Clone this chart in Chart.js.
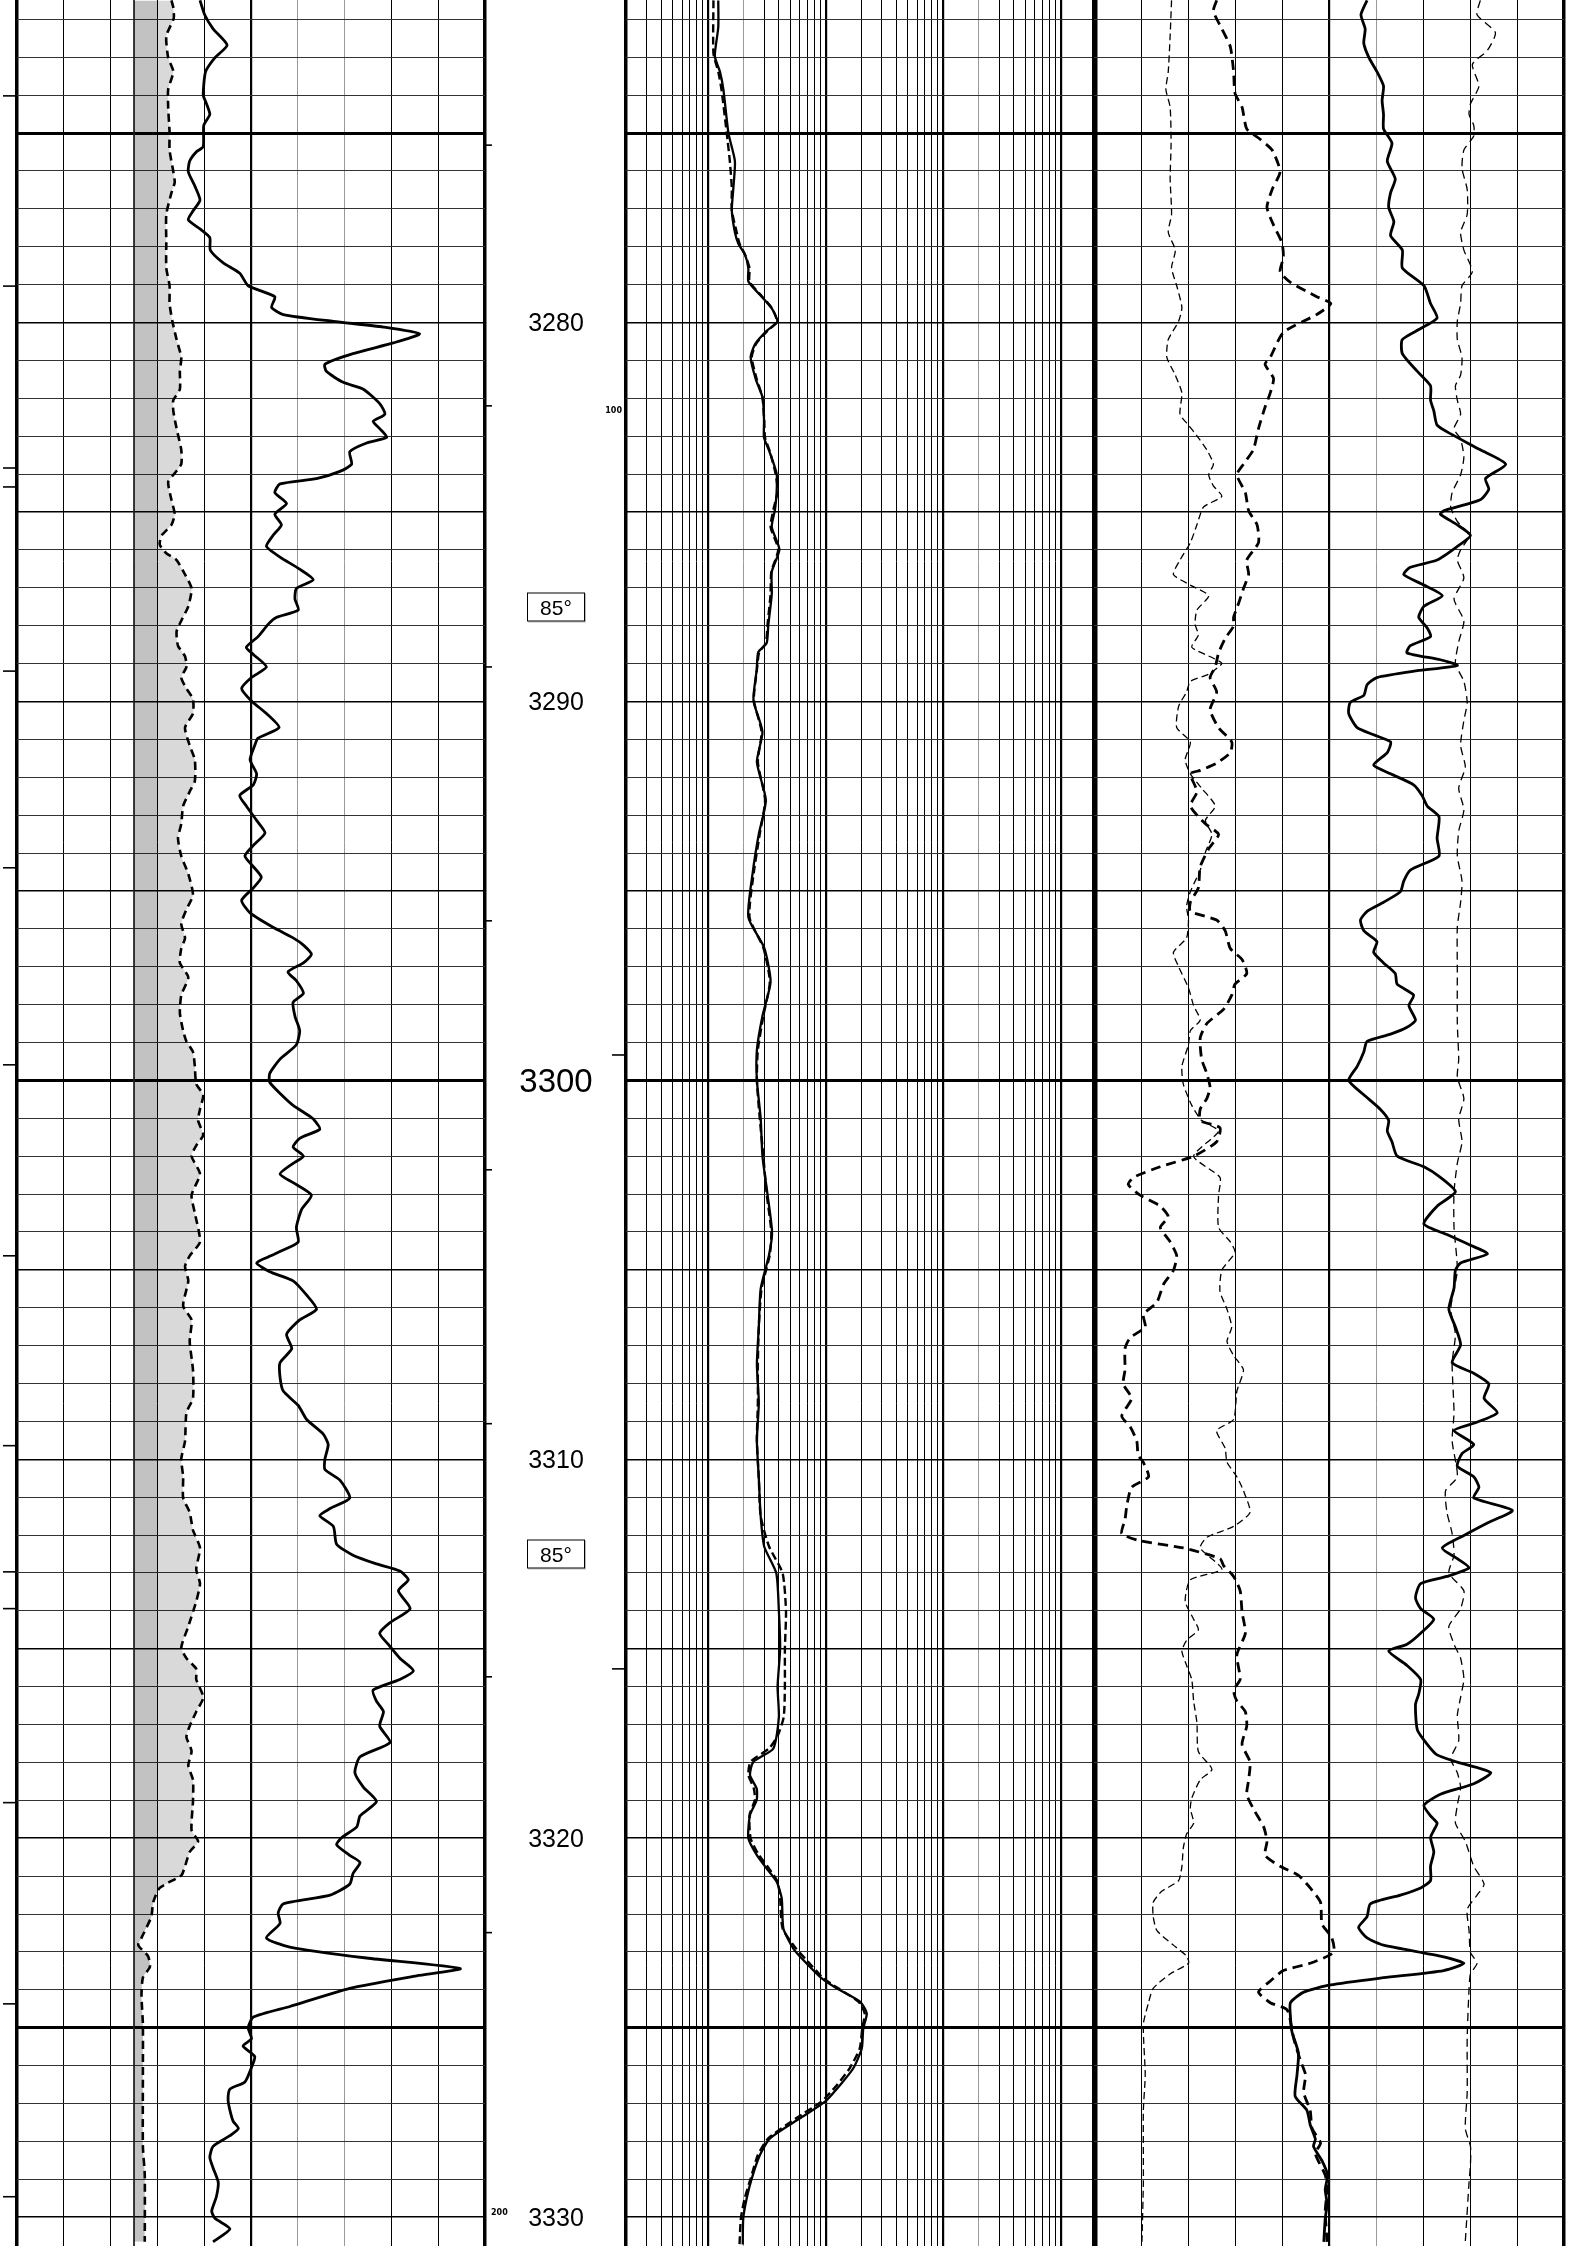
<!DOCTYPE html>
<html>
<head>
<meta charset="utf-8">
<title>Log 3271 - 3331 m</title>
<script src="https://cdn.jsdelivr.net/npm/chart.js@4.4.1/dist/chart.umd.min.js"></script>
<style>
  html, body { margin: 0; padding: 0; background: #fff; width: 1587px; height: 2246px; overflow: hidden; }
  #page { position: relative; width: 1587px; height: 2246px; background: #fff; }
  #page canvas { position: absolute; top: 0; }
  .depth { position: absolute; left: 556px; transform: translate(-50%, -50%); font: 25px "Liberation Sans", Arial, sans-serif; line-height: 1; color: #000; white-space: nowrap; }
  .depth.big { font-size: 33px; }
  .angle { position: absolute; left: 556px; transform: translate(-50%, -50%); width: 56px; height: 27px; border: 1px solid #000; font: 21px "Liberation Sans", Arial, sans-serif; line-height: 27px; text-align: center; background: #fff; box-shadow: 1px 1px 0 #bbb; }
  .note { position: absolute; transform: translateY(-50%); font: bold 8px "DejaVu Sans", sans-serif; line-height: 1; }
</style>
</head>
<body>
<div id="page">
  <canvas id="leftTrack" width="492" height="2246" style="left:0px"></canvas>
  <canvas id="depthTrack" width="143" height="2246" style="left:485px"></canvas>
  <canvas id="logTrack" width="478" height="2246" style="left:622px"></canvas>
  <canvas id="rightTrack" width="478" height="2246" style="left:1090px"></canvas>
</div>
<script>

// depth window shown on the sheet (m)
const depthTop = 3271.49;
const depthBottom = 3330.76;

// labels in the depth column
const depthLabels = [3280, 3290, 3300, 3310, 3320, 3330];
const angleDepths = [3287.5, 3312.5];
const angleText = '85°';
const noteTexts = ['100', '200'];
const noteDepths = [3282.33, 3329.89];

// grid divisions
const trackDivisions = [0, 10, 20, 30, 40, 50, 60, 70, 80, 90, 100];
const logGrid = [0.2, 0.3, 0.4, 0.5, 0.6, 0.7, 0.8, 0.9, 1, 2, 3, 4, 5, 6, 7, 8, 9, 10, 20, 30, 40, 50, 60, 70, 80, 90,
  100, 200, 300, 400, 500, 600, 700, 800, 900, 1000, 2000];
const logDecades = [1, 10, 100, 1000];

// tick marks
const marginTicks = [3274.02, 3279.04, 3283.84, 3284.34, 3289.2, 3294.39, 3299.59, 3304.63, 3309.64, 3312.97, 3313.94, 3319.06, 3324.37, 3329.46];
const timeTicks = [3275.32, 3282.2, 3289.09, 3295.79, 3302.36, 3309.06, 3315.74, 3322.49];
const rightEdgeTicks = [3299.33, 3315.53];

// left track, solid curve
const grDepth = [
  3271.5,3271.88,3272.25,3272.68,3273.01,3273.38,3274.0,3274.23,3274.51,3274.8,3275.36,3275.5,3275.74,3276.02,3276.4,3276.77,3277.06,3277.29,3277.53,3277.76,
  3278.09,3278.42,3278.7,3279.03,3279.32,3279.6,3279.79,3279.97,3280.12,3280.3,3280.54,3280.82,3281.1,3281.29,3281.58,3281.76,3282.14,3282.42,3282.61,3282.8,
  3283.03,3283.18,3283.41,3283.74,3283.93,3284.12,3284.26,3284.49,3284.78,3285.06,3285.34,3285.62,3285.91,3286.19,
  3286.51,3286.79,3287.02,3287.3,3287.59,3287.78,3287.96,3288.29,3288.57,3288.76,3289.09,3289.37,3289.66,3289.99,3290.32,3290.69,3290.97,3291.16,3291.54,3291.91,
  3292.2,3292.48,3292.76,3293.14,3293.47,3293.8,3294.08,3294.36,3294.64,3294.92,3295.25,3295.58,3295.96,3296.24,3296.43,3296.67,3296.9,3297.14,3297.37,3297.7,
  3297.94,3298.31,3298.69,3299.06,3299.44,3299.82,3300.05,3300.38,3300.66,3300.95,
  3301.06,3301.29,3301.53,3301.76,3302.0,3302.19,3302.47,3302.7,3303.03,3303.41,3303.88,3304.26,3304.44,3304.68,3304.82,3305.05,3305.29,3305.67,3306.04,3306.32,
  3306.7,3307.08,3307.45,3307.83,3308.2,3308.58,3308.95,3309.33,3309.61,3309.99,3310.27,3310.55,3311.02,3311.3,3311.49,3311.77,3312.24,3312.53,3312.76,3312.95,
  3313.18,3313.47,3313.94,3314.31,3314.59,3314.88,3315.25,3315.58,
  3315.81,3316.09,3316.38,3316.66,3317.04,3317.47,3317.85,3318.27,3318.65,3319.03,3319.41,3319.7,3319.98,3320.17,3320.45,3320.64,3320.93,3321.21,3321.5,3321.73,
  3321.97,3322.25,3322.63,3322.87,3323.16,3323.44,3323.63,3323.96,3324.44,3324.72,3325.0,3325.29,3325.48,3325.76,3326.05,3326.43,3326.62,3326.9,3327.18,3327.47,
  3327.66,3327.85,3328.13,3328.42,3328.7,3329.08,3329.46,3329.84,3330.03,3330.31,3330.65];
const grValue = [
  39.1,40.1,41.9,44.9,42.3,40.3,39.8,40.5,41.2,39.9,39.8,38.3,36.9,36.6,38.0,39.1,37.6,36.6,39.1,41.2,
  41.3,44.0,47.6,49.4,55.1,54.4,56.9,67.6,78.3,86.0,80.4,71.8,65.8,66.1,69.7,74.0,77.5,78.6,76.1,77.5,
  79.0,74.7,71.1,71.5,69.0,64.0,56.2,55.1,57.6,55.1,56.5,54.7,53.3,56.2,
  60.4,63.3,59.7,59.4,60.1,55.5,53.7,51.5,49.0,50.5,53.3,50.1,48.0,50.1,53.3,56.0,51.5,50.8,49.8,51.2,
  50.5,47.6,49.0,51.2,53.0,50.5,48.7,50.5,52.2,50.5,48.0,49.8,54.7,59.0,61.2,62.9,61.2,57.9,59.7,61.2,
  59.0,59.4,60.4,59.7,56.2,54.0,54.0,56.5,59.0,62.6,
  63.6,64.7,60.4,59.0,61.2,59.0,56.2,59.0,62.9,60.8,59.7,60.1,57.6,53.3,51.2,54.0,59.0,61.9,64.0,60.4,
  57.6,58.7,56.2,56.2,56.9,60.1,61.9,65.4,66.5,65.8,65.8,69.0,71.1,66.9,64.7,67.6,68.3,71.8,76.8,81.8,
  83.6,81.5,84.0,79.7,77.5,79.3,81.8,84.7,
  81.8,76.1,76.8,78.3,77.5,79.7,73.3,72.2,74.0,76.8,73.3,72.6,69.4,68.3,71.1,73.3,71.8,71.1,66.9,56.9,
  55.8,56.2,53.3,58.3,74.7,94.7,85.4,71.1,58.3,50.5,49.4,50.1,48.3,50.8,50.1,48.7,45.5,45.1,45.5,46.2,
  47.3,45.5,41.9,41.2,41.9,43.0,42.6,41.6,42.3,45.5,41.9];

// left track, dashed curve with shading
const shadeBase = 25;
const spDepth = [
  3271.5,3271.69,3271.97,3272.44,3273.01,3273.38,3273.85,3274.32,3274.98,3275.45,3276.02,3276.3,3276.58,3277.15,3277.9,3278.56,3279.03,3279.5,3279.97,3280.45,
  3280.92,3281.29,3281.76,3282.05,3282.33,3282.8,3283.36,3283.74,3283.98,3284.21,3284.68,3285.06,3285.34,3285.62,3285.86,3286.09,
  3286.27,3286.65,3287.02,3287.49,3287.87,3288.15,3288.53,3288.81,3289.09,3289.37,3289.66,3289.94,3290.32,3290.69,3291.16,3291.54,3292.1,3292.38,3292.76,3293.23,
  3293.61,3294.08,3294.55,3295.11,3295.49,3295.87,3296.24,3296.52,3296.9,3297.28,3297.75,3298.22,3298.69,3298.97,3299.25,3299.63,3300.1,3300.38,3300.76,
  3301.06,3301.44,3301.72,3302.0,3302.47,3303.03,3303.5,3304.26,3304.63,3304.91,3305.29,3305.95,3306.32,3306.89,3307.64,3308.39,3308.77,3309.52,3309.99,3310.46,
  3311.02,3311.4,3311.87,3312.34,3312.9,3313.28,3313.75,3314.41,3314.97,3315.25,3315.53,
  3315.81,3316.28,3316.66,3317.04,3317.33,3317.7,3318.08,3318.46,3319.03,3319.79,3320.08,3320.36,3320.74,3320.98,3321.31,3321.69,3322.07,3322.63,3322.82,3323.11,
  3323.39,3323.68,3324.15,3324.91,3326.24,3328.13,3328.89,3330.65];
const spValue = [
  33.0,33.4,33.5,31.9,32.3,33.4,32.3,32.3,32.6,32.6,33.4,33.7,33.0,31.9,31.9,31.9,32.6,32.6,33.2,34.1,
  35.1,34.8,34.8,33.4,33.4,34.1,35.1,35.1,33.7,32.3,33.0,33.7,33.0,30.9,30.5,31.9,
  34.1,35.9,37.3,36.6,35.1,34.1,34.4,35.9,36.2,35.1,36.2,37.6,37.6,35.9,36.9,38.0,38.0,36.9,35.5,35.1,
  34.4,35.1,36.6,37.6,36.2,35.1,35.9,35.1,34.8,36.6,35.1,34.8,35.5,36.2,37.6,38.0,38.3,39.8,39.1,
  38.7,39.8,38.3,37.3,39.1,37.3,38.0,39.1,36.9,35.9,36.6,35.5,37.3,36.9,37.6,37.6,36.2,35.9,35.1,35.5,
  35.5,36.9,37.6,39.1,38.3,39.1,38.3,36.6,35.1,36.2,38.3,
  38.3,39.8,38.3,36.9,36.2,37.3,36.6,37.6,37.6,37.3,38.7,36.9,35.9,35.1,30.5,29.1,28.7,26.6,25.9,28.0,
  28.4,26.9,26.6,26.9,26.9,26.9,27.3,27.3];

// log track, solid curve
const rtDepth = [
  3271.5,3272.21,3272.97,3273.38,3273.86,3275.01,3275.74,3276.45,3277.04,3277.62,3277.92,3278.21,3278.57,3278.92,3279.27,3279.63,3279.98,3280.22,3280.57,3280.92,
  3281.51,3281.98,3282.57,3283.04,3283.4,3283.99,3284.46,3284.93,3285.4,3285.99,3286.58,3287.17,3287.99,3288.46,3288.7,3289.17,3289.97,3290.8,3291.6,3292.6,
  3293.5,3294.5,3295.7,3296.5,3297.4,3298.3,3299.2,3300.0,3301.0,3302.0,3303.0,3304.0,3304.6,3305.5,3306.5,3307.5,3308.5,3309.5,3310.5,3311.5,
  3312.3,3313.0,3314.0,3315.0,3316.0,3316.8,3317.63,3317.98,3318.33,3318.69,3318.99,3319.39,3320.0,3320.44,3320.8,3321.15,3321.59,3322.38,3322.91,3323.26,
  3323.7,3323.96,3324.31,3324.62,3325.02,3325.55,3326.07,3326.51,3326.95,3327.39,3327.92,3328.36,3328.98,3329.5,3330.03,3330.72];
const rtValue = [
  1.22,1.22,1.14,1.26,1.35,1.49,1.69,1.64,1.59,1.69,1.81,2.06,2.2,2.2,2.76,3.48,3.88,3.15,2.51,2.3,
  2.55,2.91,2.99,2.99,3.32,3.83,3.83,3.71,3.48,4.04,3.48,3.48,3.25,3.15,2.67,2.59,2.43,2.9,2.6,3.1,
  2.7,2.4,2.2,3.0,3.4,2.9,2.6,2.6,2.8,2.9,3.2,3.5,3.3,2.8,2.7,2.6,2.7,2.6,2.7,2.8,
  3.0,3.8,4.0,4.1,3.9,4.0,3.59,2.43,2.27,2.59,2.59,2.27,2.2,2.59,3.15,3.83,4.23,4.37,5.31,6.67,
  9.27,12.4,19.6,22.4,20.9,20.3,17.2,13.3,9.88,6.05,3.36,2.76,2.35,2.13,1.99,1.97];

// log track, dashed curve
const rxoDepth = [
  3271.5,3272.9,3273.38,3273.86,3275.0,3275.74,3276.45,3277.04,3277.62,3277.92,3278.21,3278.57,3278.92,3279.27,3279.63,3279.98,3280.22,3280.57,3280.92,3281.51,
  3281.98,3282.57,3283.04,3283.4,3283.99,3284.46,3284.93,3285.4,3285.99,3286.58,3287.17,3287.99,3288.46,3288.7,3289.17,3289.97,3290.8,3291.6,3292.6,3293.5,
  3294.5,3295.7,3296.5,3297.4,3298.3,3299.2,3300.0,3301.0,3302.0,3303.0,3304.0,3304.6,3305.5,3306.5,3307.5,3308.5,3309.5,3310.5,3311.5,3312.3,
  3313.0,3314.0,3315.0,3316.0,3316.8,3317.3,3317.63,3317.98,3318.33,3318.69,3318.99,3319.39,3320.0,3320.44,3320.8,3321.15,3321.59,3322.38,3322.91,3323.26,
  3323.7,3323.96,3324.31,3324.62,3325.02,3325.55,3326.07,3326.51,3326.95,3327.39,3327.92,3328.36,3328.98,3329.5,3330.03,3330.72];
const rxoValue = [
  1.11,1.11,1.22,1.3,1.44,1.53,1.59,1.59,1.75,1.85,2.06,2.25,2.25,2.8,3.5,3.85,3.2,2.55,2.35,2.6,
  2.9,3.0,3.05,3.35,3.75,3.9,3.6,3.4,3.95,3.45,3.4,3.2,3.1,2.72,2.6,2.45,2.85,2.65,3.05,2.75,
  2.45,2.25,2.95,3.35,2.95,2.65,2.6,2.75,2.95,3.15,3.45,3.35,2.85,2.7,2.65,2.65,2.6,2.7,2.8,3.3,
  4.3,4.6,4.5,4.5,4.4,3.9,3.3,2.3,2.2,2.45,2.5,2.25,2.3,2.7,3.3,3.9,4.1,4.3,5.6,7.1,
  9.6,12.8,19.0,21.5,20.5,19.5,16.0,12.5,9.2,5.6,3.25,2.65,2.3,2.05,1.9,1.85];

// right track, thin dashed curve (left)
const thinADepth = [
  3271.5,3272.44,3273.38,3273.85,3274.32,3275.27,3276.21,3277.15,3277.62,3278.09,3278.56,3279.03,3279.6,3279.97,3280.45,3280.92,3281.39,3281.86,3282.42,3282.71,
  3282.99,3283.36,3283.74,3284.02,3284.31,3284.59,3284.87,3285.34,3285.81,
  3286.27,3286.65,3286.93,3287.21,3287.59,3287.96,3288.25,3288.57,3288.86,3289.0,3289.28,3289.47,3289.75,3290.13,3290.69,3291.07,3291.54,3291.91,3292.29,3292.76,
  3293.14,3293.51,3293.98,3294.45,3295.02,3295.4,3295.77,3296.24,3296.62,3297.0,3297.56,3298.03,3298.41,3298.69,3299.06,3299.63,3300.1,3300.66,
  3301.06,3301.34,3302.0,3302.56,3303.03,3303.88,3304.26,3304.54,3305.01,3305.57,3306.04,3306.51,3306.89,3307.26,3307.64,3308.2,3308.95,3309.24,3309.71,3310.08,
  3310.46,3310.83,3311.4,3311.77,3312.06,3312.34,3312.9,3313.18,3313.75,3314.22,3314.5,3314.78,3315.06,3315.44,
  3315.81,3316.38,3316.95,3317.71,3318.18,3318.46,3318.94,3319.22,3319.6,3319.89,3320.26,3320.74,3321.12,3321.4,3321.69,3322.07,3322.44,3322.82,3323.11,3323.3,
  3323.58,3323.96,3324.34,3324.91,3326.24,3327.18,3329.08,3330.65];
const thinAValue = [
  16.5,16.2,15.8,15.3,16.2,16.4,16.2,16.5,15.8,17.3,16.5,17.6,18.7,18.0,15.8,15.5,17.3,18.7,18.3,20.1,
  21.9,24.0,25.4,24.4,25.4,27.2,23.3,21.9,20.5,
  18.3,16.9,20.5,24.4,21.9,21.5,22.2,20.8,25.4,27.2,24.4,20.5,19.7,18.0,17.6,20.5,19.4,20.5,22.9,25.8,
  23.7,25.1,23.7,22.6,20.5,19.7,20.1,19.7,16.9,18.0,20.1,21.2,22.6,20.5,20.1,18.7,19.0,20.8,
  22.9,26.5,21.2,26.8,26.5,26.5,29.0,30.0,27.2,26.8,28.3,29.3,28.3,29.7,31.8,30.4,29.7,26.1,27.9,28.3,
  30.4,31.8,33.2,29.7,24.0,22.6,27.2,20.5,19.4,21.2,22.2,19.7,18.7,19.7,
  20.8,21.2,21.9,22.2,25.1,22.6,20.8,20.5,21.2,19.7,19.0,18.7,18.0,14.4,12.6,12.6,13.4,16.9,19.7,20.1,
  16.2,12.6,11.6,10.5,10.9,10.5,10.5,10.2];

// right track, thick dashed curve
const thickDepth = [
  3271.5,3271.78,3272.25,3272.72,3273.38,3273.95,3274.32,3274.89,3275.17,3275.45,3276.02,3276.49,3276.96,3277.43,3277.9,3278.28,3278.66,3278.94,3279.32,3279.5,
  3279.79,3280.26,3280.92,3281.1,3281.48,3281.86,3282.23,3282.8,3283.36,3283.74,3284.02,3284.49,3284.97,3285.34,3285.81,
  3286.27,3286.65,3287.02,3287.4,3287.78,3288.01,3288.34,3288.72,3289.09,3289.37,3289.75,3290.22,3290.69,3291.07,3291.35,3291.63,3291.82,3291.91,3292.38,3292.76,
  3293.23,3293.51,3293.89,3294.36,3294.92,3295.3,3295.54,3295.77,3296.05,3296.52,3296.81,3297.18,3297.46,3297.75,3298.12,3298.5,3298.88,3299.44,3299.82,3300.19,
  3300.48,3300.76,
  3301.06,3301.25,3301.62,3302.0,3302.28,3302.56,3302.75,3303.03,3303.32,3303.6,3303.88,3304.26,3304.63,3305.01,3305.38,3305.85,3306.18,3306.51,3306.79,3307.08,
  3307.64,3308.01,3308.39,3308.86,3309.14,3309.52,3309.89,3310.08,3310.46,3310.74,3311.21,3311.59,3311.96,3312.15,3312.34,3312.62,3312.81,3313.09,3313.47,3314.03,
  3314.59,3315.16,
  3315.81,3316.09,3316.38,3316.66,3317.04,3317.52,3317.99,3318.46,3318.84,3319.22,3319.7,3320.08,3320.45,3320.74,3320.98,3321.31,3321.69,3322.26,3322.63,3323.01,
  3323.3,3323.49,3323.77,3324.06,3324.34,3324.53,3325.29,3325.86,3326.24,3326.71,3327.18,3327.66,3328.04,3328.32,3328.89,3329.27,3329.84,3330.65];
const thickValue = [
  26.1,25.4,27.2,29.0,29.7,30.0,31.5,32.5,35.4,37.9,39.6,37.9,36.8,38.2,40.0,40.3,39.6,41.8,47.4,50.4,
  47.4,40.3,37.5,36.4,38.2,37.5,36.4,35.0,33.9,31.8,30.4,32.2,32.9,34.7,35.0,
  32.5,32.9,31.8,30.8,29.7,29.7,27.9,26.5,25.8,24.7,26.1,24.7,26.5,29.3,29.0,26.1,22.6,20.5,21.9,20.5,
  23.7,26.5,24.4,22.6,22.2,20.5,20.5,26.1,27.9,29.0,31.5,32.5,30.0,29.3,27.6,24.0,22.6,22.9,24.0,24.7,
  24.0,22.6,
  22.6,26.8,26.1,21.2,14.1,8.4,7.3,9.8,14.1,15.8,14.1,16.2,17.6,16.9,14.8,13.4,10.5,10.9,7.7,6.6,
  6.6,6.2,8.0,5.9,7.7,9.1,9.4,10.5,11.6,8.0,7.0,6.6,5.9,9.8,19.0,26.8,27.6,29.7,31.1,31.5,
  32.2,30.4,
  31.1,29.7,30.4,32.2,32.5,31.5,33.2,32.9,32.5,33.9,36.1,36.8,36.4,39.6,43.5,46.0,48.2,48.5,50.6,51.0,
  46.0,40.3,37.5,35.0,37.5,41.1,42.5,43.9,45.0,44.6,46.0,46.4,48.2,47.1,49.2,49.6,49.2,49.6];

// right track, solid curve
const solidDepth = [
  3271.5,3271.88,3272.25,3272.63,3273.01,3273.38,3273.76,3274.14,3274.51,3274.89,3275.27,3275.74,3276.21,3276.58,3276.96,3277.34,3277.71,3278.09,3278.56,3279.03,
  3279.5,3279.88,3280.16,3280.45,3280.82,3281.29,3281.67,3282.05,3282.33,3282.71,3282.94,3283.36,3283.74,3284.12,3284.4,3284.68,3284.97,3285.06,3285.34,3285.62,
  3285.91,
  3286.27,3286.46,3286.65,3286.93,3287.21,3287.49,3287.78,3288.06,3288.29,3288.53,3288.72,3288.9,3289.05,3289.19,3289.37,3289.56,3289.84,3290.03,3290.32,3290.69,
  3290.88,3291.07,3291.35,3291.68,3291.91,3292.2,3292.48,3292.76,3293.04,3293.61,3294.08,3294.45,3294.74,3295.02,3295.3,3295.54,3295.77,3296.05,3296.34,3296.62,
  3296.9,3297.18,3297.46,3297.75,3298.03,3298.41,3298.6,3298.78,3298.97,3299.25,3299.63,3300.0,3300.38,3300.76,
  3301.06,3301.34,3301.62,3302.0,3302.28,3302.56,3302.94,3303.32,3303.79,3304.07,3304.35,3304.58,3304.82,3305.01,3305.48,3306.04,3306.51,3306.98,3307.45,3307.73,
  3308.01,3308.39,3308.77,3309.05,3309.24,3309.61,3309.85,3310.18,3310.46,3310.74,3311.02,3311.35,3311.68,3312.01,3312.34,3312.62,3312.86,3313.09,3313.28,3313.65,
  3313.94,3314.22,3314.59,3314.88,3315.06,3315.44,
  3315.81,3316.19,3316.47,3317.14,3317.52,3317.8,3317.99,3318.27,3318.56,3318.84,3319.13,3319.41,3319.6,3319.79,3319.98,3320.36,3320.74,3321.12,3321.31,3321.5,
  3321.73,3322.07,3322.35,3322.63,3322.82,3323.11,3323.3,3323.49,3323.68,3323.87,3324.06,3324.34,3324.72,3325.1,3325.67,3326.24,3326.81,3327.18,3327.56,3327.94,
  3328.13,3328.51,3328.89,3329.27,3329.65,3330.03,3330.65];
const solidValue = [
  58.1,56.8,57.7,57.4,58.5,60.2,61.6,61.3,61.6,61.6,63.4,62.4,64.1,63.1,62.7,63.8,63.1,65.6,65.6,70.2,
  71.6,73.0,69.5,65.6,65.6,68.8,71.6,71.6,72.3,73.0,75.9,82.2,87.6,83.3,84.0,82.2,74.4,73.7,77.3,80.1,
  77.3,
  73.0,67.3,65.9,70.2,74.1,70.2,69.1,70.9,71.6,67.3,66.6,73.7,77.3,68.8,60.2,58.1,57.4,54.5,54.2,56.0,
  59.5,63.1,62.4,59.5,63.1,68.0,69.8,70.9,73.4,73.0,73.4,67.3,65.9,65.2,61.6,58.1,56.7,57.4,60.2,59.5,
  61.6,64.1,64.5,68.0,67.0,68.4,66.6,63.1,58.1,57.4,56.0,54.2,57.4,60.9,
  62.7,62.4,63.4,64.5,70.2,73.7,76.9,73.0,70.2,75.1,80.1,83.7,78.0,76.9,76.6,75.5,76.9,78.0,76.2,80.8,
  84.0,83.0,85.8,80.8,76.6,80.8,78.3,77.3,80.8,81.9,80.8,89.0,83.7,78.7,74.1,77.3,79.8,75.1,69.5,68.4,
  69.5,72.3,69.5,66.6,62.7,66.6,
  69.5,69.1,68.4,68.8,70.9,73.0,77.3,84.4,80.8,73.7,70.2,71.6,73.0,72.3,71.6,72.3,71.6,71.6,69.5,65.2,
  58.8,58.1,56.3,58.1,61.6,73.7,78.7,74.4,61.6,50.3,44.6,41.8,41.8,42.1,43.5,43.2,42.8,45.3,46.0,47.1,
  46.7,48.5,49.7,49.2,49.6,49.2,48.9];

// right track, thin dashed curve (right)
const thinBDepth = [
  3271.5,3271.88,3272.35,3272.82,3273.19,3273.76,3274.23,3274.51,3274.8,3275.08,3275.45,3275.93,3276.49,3277.15,3277.62,3278.09,3278.66,3279.03,3279.5,3279.97,
  3280.45,3280.92,3281.39,3281.67,3282.05,3282.42,3282.8,3283.08,3283.55,3284.02,3284.49,3284.87,3285.25,3285.62,3286.0,
  3286.27,3286.74,3287.3,3287.87,3288.43,3289.0,3289.47,3290.03,3290.5,3291.16,3291.73,3292.29,3292.86,3293.42,3294.08,3294.74,3295.3,3295.96,3297.09,3298.5,
  3299.44,3299.91,3300.48,3301.02,
  3301.62,3302.19,3302.94,3303.88,3305.01,3306.04,3306.7,3307.45,3308.77,3309.52,3310.46,3310.83,3311.4,3311.96,3312.53,3313.0,3313.47,3313.94,3314.41,3314.88,
  3315.25,3315.8,
  3316.28,3316.76,3317.42,3317.9,3318.27,3318.65,3319.13,3319.6,3320.08,3320.74,3321.21,3321.5,3321.88,3322.44,3323.01,3323.3,3323.58,3323.96,3325.29,3326.71,
  3327.66,3328.13,3328.6,3329.08,3330.65];
const thinBValue = [
  82.2,81.5,85.4,83.7,80.5,81.9,80.1,79.8,80.8,80.8,78.7,78.3,79.4,79.4,78.0,78.7,80.5,78.3,78.0,77.3,
  77.3,78.3,78.0,76.9,77.3,78.0,76.6,78.0,78.7,78.0,76.2,75.9,77.3,79.8,78.0,
  77.3,78.7,76.6,78.7,77.6,76.9,78.7,79.4,78.7,78.0,79.0,77.6,78.7,77.6,77.3,78.3,78.0,77.3,77.3,77.3,
  77.6,77.3,78.7,77.6,
  78.3,77.3,76.6,76.6,77.3,75.9,76.9,76.2,76.6,76.2,77.3,74.8,75.1,76.2,76.6,75.5,78.7,78.0,75.5,76.6,
  78.0,78.7,
  78.0,77.3,77.6,75.9,77.3,78.0,77.3,76.9,79.0,80.8,83.0,81.5,79.4,79.8,80.1,81.5,80.1,79.8,79.4,79.4,
  79.0,80.1,80.1,79.8,79.0];


/*
* build a curve dataset from a depth list and a value list
*
* @param depths
* @param values
* @param style
*/
function curve(depths, values, style) {
  var set = {
    data: depths.map(function(d, i) { return {x: values[i], y: d}; }),
    borderColor: '#000',
    borderWidth: 2.6,
    pointRadius: 0,
    fill: false,
    tension: 0.2
  };
  return Object.assign(set, style);
}

/*
* short horizontal marks at given depths
*
* @param depths
* @param xPos position of the mark centre, in the chart's x units
* @param radius half length of the mark in pixels
*/
function tickMarks(depths, xPos, radius) {
  return {
    data: depths.map(function(d) { return {x: xPos, y: d}; }),
    showLine: false,
    pointStyle: 'line',
    pointRadius: radius,
    pointBorderWidth: 1.6,
    pointBorderColor: '#000',
    clip: false
  };
}

/*
* depth axis shared by every track
*/
function depthAxis(showGrid) {
  return {
    type: 'linear',
    reverse: true,
    min: depthTop,
    max: depthBottom,
    display: showGrid,
    afterBuildTicks: function(axis) {
      var t = [];
      for (var d = Math.ceil(depthTop); d <= depthBottom; d++) t.push({value: d});
      axis.ticks = t;
    },
    ticks: { display: false },
    border: { display: false },
    grid: {
      drawTicks: false,
      color: function(c) { return c.tick.value % 5 === 0 ? '#000' : '#333'; },
      lineWidth: function(c) {
        var v = c.tick.value;
        if (v % 25 === 0) return 3;
        return v % 5 === 0 ? 1.6 : 1;
      }
    },
    afterFit: function(axis) { axis.width = 0; }
  };
}

// linear track axis 0 - 100 in ten divisions
function linearAxis(grayLines) {
  return {
    type: 'linear',
    min: 0,
    max: 100,
    afterBuildTicks: function(axis) { axis.ticks = trackDivisions.map(function(v) { return {value: v}; }); },
    ticks: { display: false },
    border: { display: false },
    grid: {
      drawTicks: false,
      color: function(c) { return grayLines.indexOf(c.tick.value) >= 0 ? '#9a9a9a' : '#000'; },
      lineWidth: function(c) {
        var v = c.tick.value;
        if (v === 0 || v === 100) return 3.5;
        return v === 50 ? 2.2 : 1;
      }
    },
    afterFit: function(axis) { axis.height = 0; }
  };
}

// four decade logarithmic axis
function logAxis() {
  return {
    type: 'logarithmic',
    min: 0.2,
    max: 2000,
    afterBuildTicks: function(axis) { axis.ticks = logGrid.map(function(v) { return {value: v}; }); },
    ticks: { display: false },
    border: { display: false },
    grid: {
      drawTicks: false,
      color: function(c) { var v = c.tick.value; return (v === 2 || v === 200) ? '#9a9a9a' : '#000'; },
      lineWidth: function(c) {
        var v = c.tick.value;
        if (v === 0.2 || v === 2000) return 3.5;
        return logDecades.indexOf(v) >= 0 ? 2.2 : 1;
      }
    },
    afterFit: function(axis) { axis.height = 0; }
  };
}

function trackOptions(xAxis, yAxis, padLeft, padRight) {
  return {
    responsive: false,
    animation: false,
    events: [],
    indexAxis: 'y',
    layout: { autoPadding: false, padding: { left: padLeft, right: padRight, top: 0, bottom: 0 } },
    plugins: { legend: { display: false }, tooltip: { enabled: false } },
    scales: { x: xAxis, y: yAxis }
  };
}

// stipple-like shading: darker close to the base line
function shadeColor(ctx) {
  var chart = ctx.chart;
  if (!chart.chartArea) return 'rgba(0,0,0,0.15)';
  var x = chart.scales.x;
  var a = x.getPixelForValue(shadeBase), b = x.getPixelForValue(30), c = x.getPixelForValue(50);
  var g = chart.ctx.createLinearGradient(a, 0, c, 0);
  var t = (b - a) / (c - a);
  g.addColorStop(0, 'rgba(0,0,0,0.24)');
  g.addColorStop(t, 'rgba(0,0,0,0.24)');
  g.addColorStop(t, 'rgba(0,0,0,0.15)');
  g.addColorStop(1, 'rgba(0,0,0,0.15)');
  return g;
}


var leftChart = new Chart(document.getElementById('leftTrack'), {
  type: 'line',
  data: { datasets: [
    curve(grDepth, grValue, { borderWidth: 2.8 }),
    curve(spDepth, spValue, { borderDash: [8, 5], fill: { value: shadeBase }, backgroundColor: shadeColor }),
    curve([depthTop, depthBottom], [shadeBase, shadeBase], { borderWidth: 1, borderColor: '#222', tension: 0 }),
    tickMarks(marginTicks, -1.5, 7),
    tickMarks(timeTicks, 101.6, 7.5)
  ] },
  options: trackOptions(linearAxis([60, 70]), depthAxis(true), 17, 7)
});

new Chart(document.getElementById('depthTrack'), {
  type: 'line',
  data: { datasets: [
    tickMarks(rightEdgeTicks, 134, 7)
  ] },
  options: trackOptions({ type: 'linear', min: 0, max: 143, display: false }, depthAxis(false), 0, 0)
});

new Chart(document.getElementById('logTrack'), {
  type: 'line',
  data: { datasets: [
    curve(rtDepth, rtValue, { borderWidth: 2.3 }),
    curve(rxoDepth, rxoValue, { borderWidth: 2.4, borderDash: [8, 4] })
  ] },
  options: trackOptions(logAxis(), depthAxis(true), 4, 4)
});

new Chart(document.getElementById('rightTrack'), {
  type: 'line',
  data: { datasets: [
    curve(solidDepth, solidValue, { borderWidth: 2.8 }),
    curve(thickDepth, thickValue, { borderWidth: 2.8, borderDash: [10, 6] }),
    curve(thinADepth, thinAValue, { borderWidth: 1.3, borderDash: [7, 4] }),
    curve(thinBDepth, thinBValue, { borderWidth: 1.3, borderDash: [8, 5] })
  ] },
  options: trackOptions(linearAxis([60]), depthAxis(true), 4, 4)
});


/*
* write the depth column texts at the depths of the chart's y scale
*
* @param yAxis
*/
function placeText(yAxis) {
  var page = document.getElementById('page');

  depthLabels.forEach(function(d) {
    var el = document.createElement('div');
    el.className = d % 100 === 0 ? 'depth big' : 'depth';
    el.textContent = d;
    el.style.top = yAxis.getPixelForValue(d) + 'px';
    page.appendChild(el);
  });

  angleDepths.forEach(function(d) {
    var el = document.createElement('div');
    el.className = 'angle';
    el.textContent = angleText;
    el.style.top = yAxis.getPixelForValue(d) + 'px';
    page.appendChild(el);
  });

  noteTexts.forEach(function(txt, i) {
    var el = document.createElement('div');
    el.className = 'note';
    el.textContent = txt;
    el.style.top = yAxis.getPixelForValue(noteDepths[i]) + 'px';
    if (i === 0) { el.style.right = (1587 - 622) + 'px'; } else { el.style.left = '491px'; }
    page.appendChild(el);
  });
}

placeText(leftChart.scales.y);

</script>
</body>
</html>
